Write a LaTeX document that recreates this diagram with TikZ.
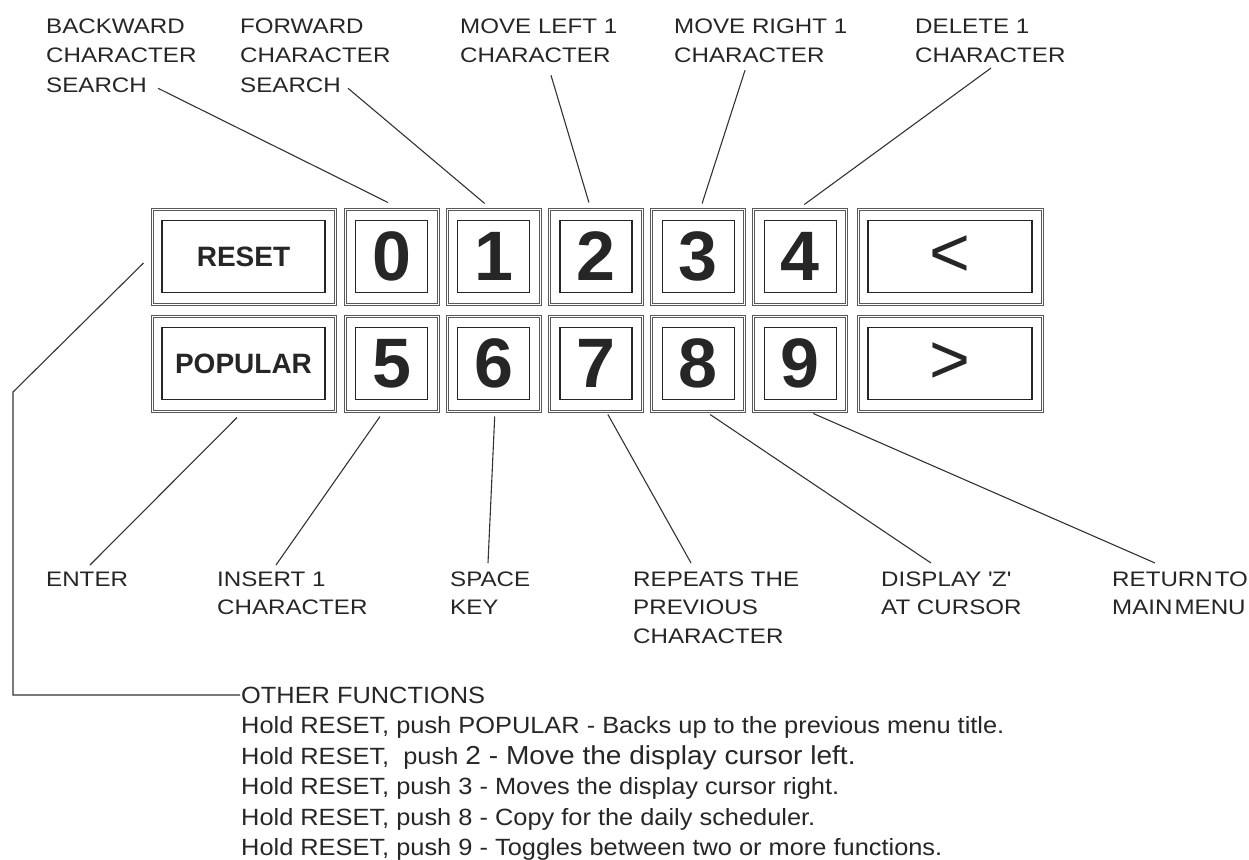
\documentclass[tikz,border=0pt]{standalone}
\usepackage{fontspec}
\setmainfont{Liberation Sans}
\newfontfamily\lblfont[FakeStretch=1.15]{Liberation Sans}
\newfontfamily\notefont[FakeStretch=1.08]{Liberation Sans}
\usetikzlibrary{positioning}

\begin{document}
\begin{tikzpicture}[x=1pt, y=-1pt,
  lead/.style={draw=black!80, line width=1.1pt},
  keyout/.style={draw=black!65, double, double distance=1pt, line width=1pt,
    minimum width=93pt, minimum height=95pt, inner sep=0pt},
  keyin/.style={draw=black!85, line width=1.2pt, minimum width=72pt,
    minimum height=72pt, inner sep=0pt, text=black!85,
    font=\fontsize{70}{70}\selectfont\bfseries},
  toplbl/.style={anchor=north west, align=left, inner sep=0pt, text=black!85,
    font=\lblfont\fontsize{21}{29.5}\selectfont},
  botlbl/.style={toplbl, font=\lblfont\fontsize{21}{28.5}\selectfont},
  note/.style={anchor=north west, align=left, inner sep=1pt, text=black!85,
    font=\notefont\fontsize{23.5}{30.5}\selectfont}]

\useasboundingbox (0,0) rectangle (1249,859);

% teclas largas
\node[keyout, minimum width=183pt] (rst) at (243.5,256.5) {};
\node[keyin, minimum width=163pt, font=\fontsize{28}{28}\selectfont\bfseries] (frst) at (rst) {RESET};
\node[keyout, minimum width=183pt] (pop) at (243.5,363.5) {};
\node[keyin, minimum width=163pt, font=\fontsize{28}{28}\selectfont\bfseries] (fpop) at (pop) {POPULAR};
\node[keyout, minimum width=184pt] (lt) at (950,256.5) {};
\node[keyin, minimum width=164pt, font=\fontsize{70}{70}\selectfont] (flt) at (lt) {<};
\node[keyout, minimum width=184pt] (gt) at (950,363.5) {};
\node[keyin, minimum width=164pt, font=\fontsize{70}{70}\selectfont] (fgt) at (gt) {>};

% teclas numericas
\foreach \d [count=\i from 0] in {0,...,4} {
  \node[keyout] (k\d) at ({391.5+102.2*\i},256.5) {};
  \node[keyin] (f\d) at (k\d) {\d};
}
\foreach \d [count=\i from 0] in {5,...,9} {
  \node[keyout] (k\d) at ({391.5+102.2*\i},363.5) {};
  \node[keyin] (f\d) at (k\d) {\d};
}

% rotulos de cima
\node[toplbl] (bcs) at (46,18.5) {BACKWARD\\CHARACTER\\SEARCH};
\node[toplbl] (fcs) at (240,18.5) {FORWARD\\CHARACTER\\SEARCH};
\node[toplbl] (ml) at (460,18.5) {MOVE LEFT 1\\CHARACTER};
\node[toplbl] (mr) at (674,18.5) {MOVE RIGHT 1\\CHARACTER};
\node[toplbl] (del) at (915,18.5) {DELETE 1\\CHARACTER};

\foreach \l/\ax/\ay/\k/\bx/\by in {bcs/112/-4.5/k0/-3.5/-6, fcs/108/-4.5/k1/-9/-5,
    ml/91/12/k2/-7/-6, mr/71/7/k3/4/-5, del/76/5/k4/4/-4}
  \draw[lead] ([shift={(\ax,\ay)}]\l.south west) -- ([shift={(\bx,\by)}]\k.north);

% rotulos de baixo
\node[botlbl] (ent) at (46,571.5) {ENTER};
\node[botlbl] (ins) at (217,571.5) {INSERT 1\\CHARACTER};
\node[botlbl] (spc) at (450,571.5) {SPACE\\KEY};
\node[botlbl] (rep) at (633,571.5) {REPEATS THE\\PREVIOUS\\CHARACTER};
\node[botlbl] (dsp) at (881,571.5) {DISPLAY \textquotesingle Z\textquotesingle\\AT CURSOR};
\node[botlbl] (ret) at (1112,571.5) {RETURN\kern2pt TO\\MAIN\kern2pt MENU};

\foreach \k/\ax/\ay/\l/\bx/\by in {pop/-6.5/6/ent/44/-6.5, k5/-11.5/5/ins/59/-6.5,
    k6/1/5/spc/38/-8.5, k7/12/3/rep/58/-8.5, k8/12/3/dsp/50/-8.5, k9/13/2/ret/43/-8.5}
  \draw[lead] ([shift={(\ax,\ay)}]\k.south) -- ([shift={(\bx,\by)}]\l.north west);

% outras funcoes
\node[note, anchor=west] (oth) at (240,695) {OTHER FUNCTIONS};
\node[note, below right=11pt and 0pt of oth.south west] (hold) {%
  Hold RESET, push POPULAR - Backs up to the previous menu title.\\
  Hold RESET,\ \ push {\fontsize{26}{30.5}\selectfont 2 - Move the display cursor left.}\\
  Hold RESET, push 3 - Moves the display cursor right.\\
  Hold RESET, push 8 - Copy for the daily scheduler.\\
  Hold RESET, push 9 - Toggles between two or more functions.};

\draw[lead] ([shift={(-8,6.5)}]rst.west) -- (13,392) |- (oth.west);

\end{tikzpicture}
\end{document}
